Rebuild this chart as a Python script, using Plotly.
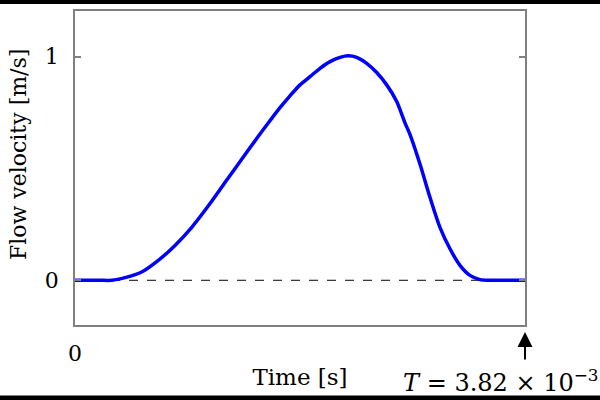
import plotly.graph_objects as go

# Time in seconds, velocity in m/s
T_END = 3.82e-3
time_s = [0.0, 0.000200, 0.000314, 0.000424, 0.000566, 0.000707, 0.000849, 0.000991,
          0.001132, 0.001273, 0.001415, 0.001556, 0.001650, 0.001740, 0.001825, 0.001910,
          0.001995, 0.002080, 0.002165, 0.002250, 0.002320, 0.002391, 0.002476,
          0.002561, 0.002646, 0.002731, 0.002801, 0.002844, 0.002929, 0.003014,
          0.003098, 0.003183, 0.003268, 0.003353, 0.003438, 0.003523, 0.003700, 0.003820]
velocity = [0.0, 0.0, 0.0, 0.012, 0.037, 0.089, 0.156, 0.237,
            0.333, 0.437, 0.541, 0.644, 0.710, 0.772, 0.825, 0.874,
            0.911, 0.948, 0.978, 0.997, 1.004, 0.997, 0.970,
            0.929, 0.874, 0.800, 0.704, 0.652, 0.519, 0.370,
            0.237, 0.141, 0.067, 0.022, 0.003, 0.0, 0.0, 0.0]
baseline_t = [0.0, T_END]
baseline_v = [0.0, 0.0]

FONT = "DejaVu Serif"
FS = 22

fig = go.Figure()
fig.add_trace(go.Scatter(x=baseline_t, y=baseline_v, mode="lines",
                         line=dict(color="black", width=1, dash="dash"),
                         hoverinfo="skip", showlegend=False))
fig.add_trace(go.Scatter(x=time_s, y=velocity, mode="lines",
                         line=dict(color="#0000ff", width=3.5, shape="spline", smoothing=0.8),
                         showlegend=False))

plot_w, plot_h = 600 - 75 - 75, 400 - 9 - 75

fig.update_layout(
    width=600, height=400,
    margin=dict(l=75, r=75, t=9, b=75),
    paper_bgcolor="white", plot_bgcolor="white",
    font=dict(family=FONT, size=FS, color="black"),
    xaxis=dict(range=[0, T_END], showgrid=False, zeroline=False,
               showline=True, linecolor="#808080", linewidth=1.5, mirror=True,
               ticks="", tickvals=[0], ticktext=["0"], ticklabelstandoff=8,
               title=dict(text="Time [s]", standoff=4, font=dict(size=23))),
    yaxis=dict(range=[-0.2, 1.2044], showgrid=False, zeroline=False,
               showline=True, linecolor="#808080", linewidth=1.5, mirror="ticks",
               ticks="inside", ticklen=6, tickcolor="#808080", tickwidth=1.5,
               tickvals=[0, 1], ticktext=["0", "1"], ticklabelstandoff=10),
    shapes=[
        dict(type="rect", xref="paper", yref="paper", x0=-0.2, x1=1.2,
             y0=(325 - 2) / plot_h, y1=1.1, fillcolor="black", line=dict(width=0)),
        dict(type="rect", xref="paper", yref="paper", x0=-0.2, x1=1.2,
             y0=-0.3, y1=(325 - 396) / plot_h, fillcolor="black", line=dict(width=0)),
    ],
    annotations=[
        dict(x=(18 - 75) / plot_w, y=(325 - 154) / plot_h, xref="paper", yref="paper",
             text="Flow velocity [m/s]", textangle=-90, showarrow=False,
             xanchor="center", yanchor="middle", font=dict(family=FONT, size=FS)),
        dict(x=T_END, y=-0.2, xref="x", yref="y", text="", showarrow=True,
             arrowhead=2, arrowsize=1.5, arrowwidth=2, arrowcolor="black",
             ax=0, ay=36, standoff=7),
        dict(x=(401 - 75) / plot_w, y=(325 - 381) / plot_h, xref="paper", yref="paper",
             text="<i>T</i> = 3.82 × 10<sup>−3</sup>",
             showarrow=False, xanchor="left", yanchor="middle",
             font=dict(family=FONT, size=24)),
    ],
)

fig.write_html("out.html", config={"displayModeBar": False},
               post_script="document.body.style.margin='0';")
